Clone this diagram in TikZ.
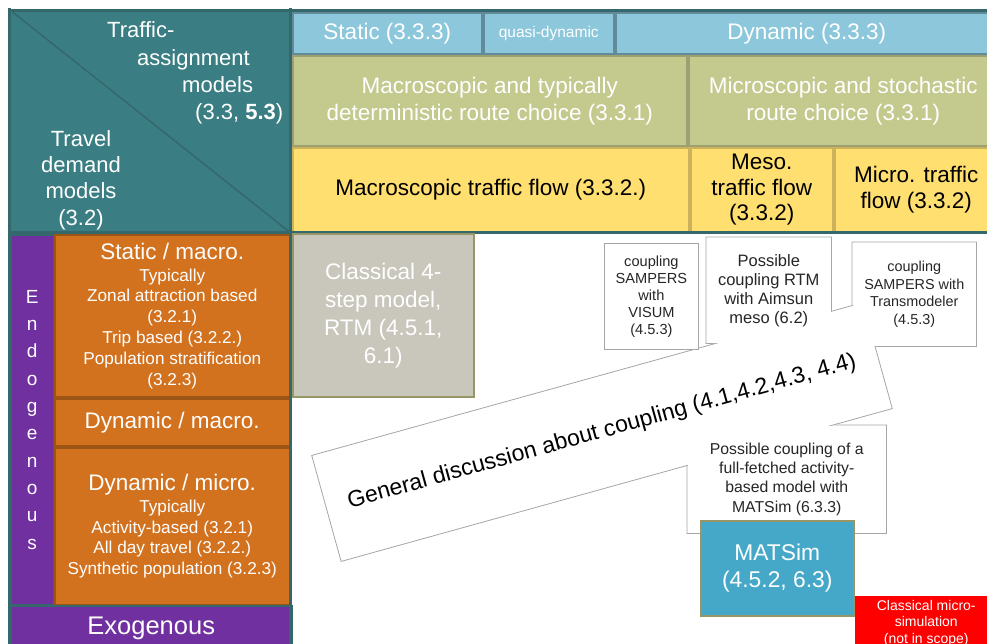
\documentclass[tikz,border=0pt]{standalone}
\usepackage{fontspec}
\setmainfont{Liberation Sans}
\usetikzlibrary{calc}
\definecolor{frameteal}{RGB}{52,104,108}
\definecolor{cornerteal}{RGB}{58,126,131}
\definecolor{assignblue}{RGB}{140,199,219}
\definecolor{routegreen}{RGB}{196,201,142}
\definecolor{flowyellow}{RGB}{255,223,112}
\definecolor{demandorange}{RGB}{210,113,30}
\definecolor{endopurple}{RGB}{112,48,160}
\definecolor{stepgrey}{RGB}{201,198,188}
\definecolor{olivedge}{RGB}{150,150,105}
\definecolor{matsimblue}{RGB}{70,168,200}
\definecolor{notegrey}{RGB}{166,166,166}
\newcommand{\bigline}[1]{{\fontsize{22.5}{26}\selectfont #1}}
\tikzset{
    cell/.style = {
        rectangle,
        anchor = north west,
        inner sep = 0pt,
        align = center,
        line width = 1.5pt,
        },
    corner cell/.style = {
        cell,
        fill = cornerteal,
        },
    corner diag/.style = {
        draw = frameteal,
        line width = 1.5pt,
        },
    corner text/.style = {
        text = white,
        inner sep = 0pt,
        font = \fontsize{22}{26.3}\selectfont,
        },
    assign head/.style = {
        cell,
        fill = assignblue,
        draw = assignblue!70!black,
        text = white,
        font = \fontsize{22.5}{26}\selectfont,
        },
    route box/.style = {
        cell,
        fill = routegreen,
        draw = routegreen!80!black,
        text = white,
        font = \fontsize{22.5}{27}\selectfont,
        },
    flow box/.style = {
        cell,
        fill = flowyellow,
        draw = flowyellow!80!black,
        text = black,
        font = \fontsize{22.5}{25.5}\selectfont,
        },
    demand box/.style = {
        cell,
        fill = demandorange,
        draw = demandorange!75!black,
        text = white,
        font = \fontsize{17.2}{20.8}\selectfont,
        },
    endo bar/.style = {
        cell,
        fill = endopurple,
        draw = frameteal,
        text = white,
        font = \fontsize{19}{27.3}\selectfont,
        },
    step box/.style = {
        cell,
        fill = stepgrey,
        draw = olivedge,
        text = white,
        font = \fontsize{22.5}{28}\selectfont,
        },
    coupling note/.style = {
        cell,
        fill = white,
        draw = notegrey,
        line width = 0.8pt,
        text = black!85,
        font = \fontsize{14.6}{17}\selectfont,
        },
    note fill/.style = {
        cell,
        fill = white,
        text = black!85,
        font = \fontsize{15.8}{19.3}\selectfont,
        },
    note line/.style = {
        draw = notegrey,
        line width = 0.8pt,
        },
    matsim box/.style = {
        cell,
        fill = matsimblue,
        draw = olivedge,
        text = white,
        font = \fontsize{22.8}{27}\selectfont,
        },
    scope box/.style = {
        cell,
        fill = red,
        text = white,
        font = \fontsize{14}{16.5}\selectfont,
        },
    frame line/.style = {
        draw = frameteal,
        line width = 3pt,
        },
}
\begin{document}
\begin{tikzpicture}[x=1pt, y=-1pt]
    \useasboundingbox (0,0) rectangle (987,643);
    \fill[white] (0,0) rectangle (987,643);

    \node[corner cell, minimum width=280pt, minimum height=222pt] (corner) at (10,10) {};
    \draw[corner diag] (corner.north west) -- (corner.south east);
    \node[corner text, anchor=base west] (ta1) at (107,37.5) {Traffic-};
    \node[corner text, anchor=base west] (ta2) at (137,65.5) {assignment};
    \node[corner text, anchor=base west] (ta3) at (182,92.5) {models};
    \node[corner text, anchor=base west] (ta4) at (195,119.5) {(3.3, \textbf{5.3})};
    \node[corner text, align=center] (tdm) at (81,180) {Travel\\demand\\models\\(3.2)};

    \node[assign head, minimum width=189pt, minimum height=41pt] (static) at (292,12) {Static (3.3.3)};
    \node[assign head, minimum width=130pt, minimum height=41pt, font=\fontsize{15.5}{18}\selectfont] (quasi) at (483,12) {quasi-dynamic};
    \node[assign head, minimum width=382pt, minimum height=41pt] (dynamic) at (615,12) {Dynamic (3.3.3)};

    \node[route box, minimum width=394pt, minimum height=90pt] (macroroute) at (292,55) {Macroscopic and typically\\deterministic route choice (3.3.1)};
    \node[route box, minimum width=309pt, minimum height=90pt] (microroute) at (688,55) {Microscopic and stochastic\\route choice (3.3.1)};

    \node[flow box, minimum width=396pt, minimum height=84pt] (macroflow) at (292,147) {Macroscopic traffic flow (3.3.2.)};
    \node[flow box, minimum width=142pt, minimum height=84pt] (mesoflow) at (690,147) {Meso.\\traffic flow\\(3.3.2)};
    \node[flow box, minimum width=163pt, minimum height=84pt] (microflow) at (834,147) {Micro. traffic\\flow (3.3.2)};

    \node[endo bar, minimum width=43pt, minimum height=370pt] (endo) at (10,234) {E\\n\\d\\o\\g\\e\\n\\o\\u\\s};
    \node[demand box, minimum width=235pt, minimum height=162pt] (staticdem) at (54,234) {\bigline{Static / macro.}\\[1pt]Typically\\Zonal attraction based\\(3.2.1)\\Trip based (3.2.2.)\\Population stratification\\(3.2.3)};
    \node[demand box, minimum width=235pt, minimum height=47pt] (dynmacro) at (54,398) {\bigline{Dynamic / macro.}};
    \node[demand box, minimum width=235pt, minimum height=157pt] (dynmicro) at (54,447) {\bigline{Dynamic / micro.}\\[1pt]Typically\\Activity-based (3.2.1)\\All day travel (3.2.2.)\\Synthetic population (3.2.3)};
    \node[endo bar, minimum width=281pt, minimum height=45pt, font=\fontsize{25.5}{28}\selectfont] (exo) at (10,605) {Exogenous};

    \draw[frame line] (8,10) -- (997,10);
    \draw[frame line] (9.5,8) -- (9.5,650);
    \draw[frame line] (8,232) -- (997,232);
    \draw[frame line] (290.5,8) -- (290.5,650);

    \node[step box, minimum width=181pt, minimum height=163pt] (step4) at (292,233) {Classical 4-\\step model,\\RTM (4.5.1,\\6.1)};

    \node[coupling note, anchor=center, rotate=15.5, minimum width=572pt, minimum height=110pt, text=black, font=\fontsize{23}{27}\selectfont] (general) at (602,432) {General discussion about coupling (4.1,4.2,4.3, 4.4)};

    \node[coupling note, minimum width=94pt, minimum height=106pt] (visum) at (604,243) {coupling\\SAMPERS\\with\\VISUM\\(4.5.3)};

    \node[note fill, minimum width=124pt, minimum height=105pt, font=\fontsize{16.5}{19}\selectfont] (aimsun) at (706,237) {Possible\\coupling RTM\\with Aimsun\\meso (6.2)};
    \draw[note line] (intersection of general.north west--general.north east and aimsun.south west--aimsun.south east)
        -- (aimsun.south west) -- (aimsun.north west) -- (aimsun.north east)
        -- (intersection of general.north west--general.north east and aimsun.north east--aimsun.south east);

    \node[note fill, minimum width=123pt, minimum height=103pt, font=\fontsize{14.4}{17.5}\selectfont] (transm) at (852,242) {coupling\\SAMPERS with\\Transmodeler\\(4.5.3)};
    \draw[note line] (intersection of general.north west--general.north east and transm.north west--transm.south west)
        -- (transm.north west) -- (transm.north east) -- (transm.south east)
        -- (intersection of general.north east--general.south east and transm.south west--transm.south east);

    \node[note fill, minimum width=198pt, minimum height=107pt] (fullcpl) at (687,425) {Possible coupling of a\\full-fetched activity-\\based model with\\MATSim (6.3.3)};
    \draw[note line] (intersection of general.south west--general.south east and fullcpl.north west--fullcpl.north east)
        -- (fullcpl.north east) -- (fullcpl.south east) -- (fullcpl.south west)
        -- (intersection of general.south west--general.south east and fullcpl.north west--fullcpl.south west);

    \node[matsim box, minimum width=153pt, minimum height=95pt] (matsim) at (700,520) {MATSim\\(4.5.2, 6.3)};
    \node[scope box, minimum width=143pt, minimum height=55pt] (scope) at (854,595) {Classical micro-\\simulation\\(not in scope)};
\end{tikzpicture}
\end{document}
